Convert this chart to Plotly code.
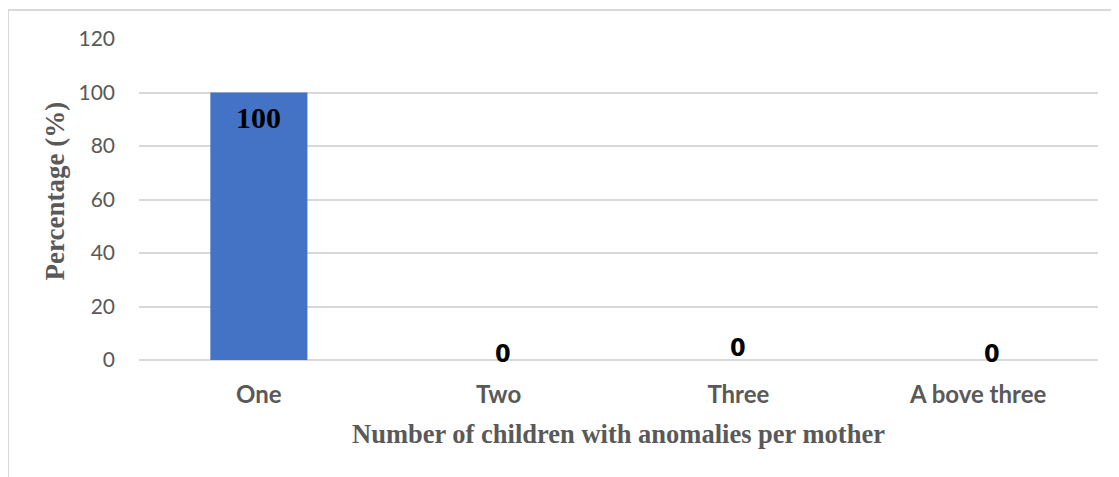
import plotly.graph_objects as go

categories = ["One", "Two", "Three", "A bove three"]
percentages = [100, 0, 0, 0]
value_labels = ["100", "0", "0", "0"]
y_ticks = [0, 20, 40, 60, 80, 100, 120]

x_title = "Number of children with anomalies per mother"
y_title = "Percentage (%)"

# label styling/offsets (presentation only)
label_yshift = [-25, 7, 13, 7]
label_xshift = [0, 4, 0, 14]
narrow = "Liberation Sans Narrow, Arial Narrow, DejaVu Sans Condensed, Roboto, sans-serif"
label_fonts = [
    dict(family="Liberation Serif, Times New Roman, serif", size=30, color="#000000"),
    dict(family=narrow, size=25, color="#000000"),
    dict(family=narrow, size=25, color="#000000"),
    dict(family=narrow, size=25, color="#000000"),
]

fig = go.Figure()
fig.add_trace(go.Bar(
    x=categories, y=percentages,
    marker=dict(color="#4472C4", line=dict(width=0)),
    width=0.405,
    hoverinfo="x+y",
))

annotations = []
for c, v, t, ys, xs, f in zip(categories, percentages, value_labels, label_yshift, label_xshift, label_fonts):
    annotations.append(dict(
        x=c, y=v, xref="x", yref="y", text="<b>%s</b>" % t, showarrow=False,
        yshift=ys, xshift=xs, font=f, xanchor="center", yanchor="middle",
    ))

annotations.append(dict(
    x=0.5, y=-0.23, xref="paper", yref="paper", text="<b>%s</b>" % x_title,
    showarrow=False, xanchor="center", yanchor="middle",
    font=dict(family="Liberation Serif, Times New Roman, serif", size=26.5, color="#595959"),
))
annotations.append(dict(
    x=-0.088, y=0.527, xref="paper", yref="paper", text="<b>%s</b>" % y_title,
    showarrow=False, xanchor="center", yanchor="middle", textangle=-90,
    font=dict(family="Liberation Serif, Times New Roman, serif", size=27, color="#595959"),
))

fig.update_layout(
    width=1111, height=469,
    margin=dict(l=131, r=21, t=31, b=117),
    paper_bgcolor="white", plot_bgcolor="white",
    showlegend=False,
    annotations=annotations,
    shapes=[
        dict(type="line", xref="paper", yref="paper", x0=-0.1366, x1=1.1, y0=1.0903, y1=1.0903,
             line=dict(color="#d9d9d9", width=2)),
        dict(type="line", xref="paper", yref="paper", x0=-0.1366, x1=-0.1366, y0=1.0903, y1=-0.5,
             line=dict(color="#d9d9d9", width=2)),
    ],
)
fig.update_xaxes(
    type="category", showgrid=False, showline=False, zeroline=False, ticks="",
    tickfont=dict(family="Lato, Open Sans, sans-serif", size=24, color="#595959", weight="bold"),
    ticklabelstandoff=18,
)
fig.update_yaxes(
    range=[0, 120], tickvals=y_ticks, showgrid=True, gridcolor="#d9d9d9", gridwidth=1.5,
    zeroline=True, zerolinecolor="#d9d9d9", zerolinewidth=1.5, showline=False, ticks="",
    tickfont=dict(family="Lato, Open Sans, sans-serif", size=21, color="#595959"),
    ticklabelstandoff=23,
)

fig.write_html("out.html")
